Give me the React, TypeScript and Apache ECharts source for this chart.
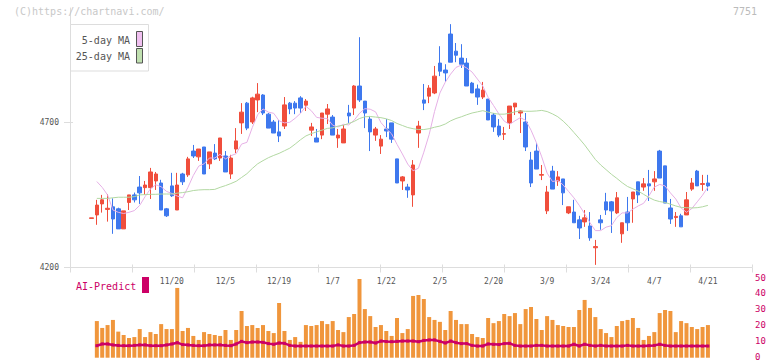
import React, { useEffect, useRef } from 'react';
import * as echarts from 'echarts';

const dates = ['10/29','10/30','10/31','11/4','11/5','11/6','11/7','11/10','11/11','11/12','11/13','11/14','11/17','11/18','11/19','11/20','11/21','11/25','11/26','11/27','11/28','12/1','12/2','12/3','12/4','12/5','12/8','12/9','12/10','12/11','12/12','12/15','12/16','12/17','12/18','12/19','12/22','12/23','12/24','12/25','12/26','12/29','12/30','1/5','1/6','1/7','1/8','1/9','1/13','1/14','1/15','1/16','1/19','1/20','1/21','1/22','1/23','1/26','1/27','1/28','1/29','1/30','2/2','2/3','2/4','2/5','2/6','2/9','2/10','2/12','2/13','2/16','2/17','2/18','2/19','2/20','2/24','2/25','2/26','2/27','3/2','3/3','3/4','3/5','3/6','3/9','3/10','3/11','3/12','3/13','3/16','3/17','3/18','3/19','3/23','3/24','3/25','3/26','3/27','3/30','3/31','4/1','4/2','4/3','4/6','4/7','4/8','4/9','4/10','4/13','4/14','4/15','4/16','4/17','4/20','4/21'];

const tickLabels = ['11/20','12/5','12/19','1/7','1/22','2/5','2/20','3/9','3/24','4/7','4/21'];

const opens = [4369,4381,4419,4400,4409,4402,4333,4424,4450,4477,
4475,4475,4498,4491,4402,4481,4398,4522,4519,4601,
4581,4615,4557,4594,4577,4584,4522,4608,4698,4766,
4701,4777,4794,4728,4701,4667,4687,4766,4766,4784,
4759,4673,4646,4656,4728,4718,4646,4629,4732,4749,
4825,4773,4711,4656,4618,4677,4698,4574,4498,4477,
4450,4663,4777,4790,4801,4904,4880,5004,4945,4921,
4904,4835,4815,4787,4780,4725,4687,4659,4698,4753,
4732,4701,4570,4601,4518,4395,4532,4498,4505,4388,
4391,4364,4357,4343,4268,4364,4426,4426,4388,4316,
4391,4436,4495,4477,4488,4495,4601,4550,4405,4372,
4378,4381,4470,4532,4486,4491];

const closes = [4371,4415,4433,4404,4367,4333,4395,4450,4433,4457,
4484,4529,4522,4398,4378,4447,4484,4495,4574,4584,
4608,4522,4598,4574,4646,4529,4577,4636,4735,4680,
4784,4797,4732,4680,4663,4653,4760,4746,4749,4749,
4773,4684,4632,4732,4746,4656,4656,4677,4722,4825,
4777,4732,4667,4677,4642,4670,4642,4491,4512,4467,
4553,4687,4766,4818,4859,4876,4870,4907,4931,4900,
4825,4801,4787,4811,4708,4684,4656,4661,4756,4766,
4739,4615,4491,4539,4520,4460,4470,4512,4457,4409,
4354,4336,4371,4302,4272,4354,4398,4395,4440,4354,
4354,4460,4450,4488,4481,4505,4508,4422,4367,4376,
4340,4433,4491,4481,4489,4481];

const lows = [4369,4347,4389,4358,4316,4333,4333,4398,4424,4419,
4450,4436,4467,4398,4374,4443,4398,4484,4512,4577,
4567,4522,4539,4570,4567,4529,4505,4594,4660,4673,
4694,4735,4725,4680,4663,4632,4677,4728,4728,4732,
4739,4653,4632,4642,4694,4656,4612,4629,4698,4725,
4770,4680,4601,4636,4591,4649,4629,4491,4467,4440,
4409,4612,4742,4766,4797,4859,4839,4907,4907,4887,
4825,4801,4760,4780,4708,4667,4649,4639,4677,4725,
4663,4601,4477,4539,4501,4384,4470,4481,4415,4384,
4354,4298,4340,4292,4209,4330,4381,4319,4384,4285,
4326,4354,4422,4464,4429,4464,4508,4422,4350,4340,
4340,4381,4464,4481,4464,4464];

const highs = [4371,4433,4450,4453,4438,4406,4395,4450,4458,4515,
4498,4543,4529,4502,4405,4526,4526,4526,4581,4622,
4608,4615,4598,4625,4646,4601,4588,4680,4766,4770,
4788,4835,4797,4732,4708,4708,4787,4770,4773,4790,
4780,4698,4677,4732,4763,4725,4677,4691,4760,4828,
4993,4773,4722,4684,4656,4711,4698,4574,4515,4488,
4570,4705,4832,4828,4894,4962,4900,5038,4973,4969,
4921,4839,4830,4839,4780,4732,4711,4684,4756,4766,
4742,4732,4598,4629,4553,4481,4550,4532,4505,4409,
4433,4378,4398,4391,4295,4381,4457,4429,4460,4354,
4443,4460,4495,4508,4536,4532,4605,4550,4436,4391,
4385,4460,4508,4536,4519,4519];

const ma5 = ['-',4496,4476,4450,4398,4390,4386,4390,4396,4414,
4444,4471,4485,4478,4462,4455,4446,4440,4476,4517,
4549,4557,4577,4577,4590,4574,4585,4592,4625,4631,
4682,4726,4746,4735,4731,4705,4698,4700,4714,4731,
4755,4740,4717,4714,4713,4690,4684,4693,4691,4707,
4731,4747,4745,4736,4699,4678,4660,4624,4591,4556,
4533,4542,4597,4658,4737,4801,4838,4866,4889,4897,
4887,4873,4849,4825,4786,4758,4729,4704,4693,4705,
4716,4707,4673,4630,4581,4525,4496,4500,4484,4462,
4440,4414,4385,4354,4327,4327,4339,4344,4372,4388,
4388,4401,4412,4421,4447,4477,4486,4481,4457,4436,
4405,4390,4403,4426,4449,4477];

const ma25 = ['-',4438,4438,4438,4440,4442,4442,4442,4444,4450,
4451,4452,4452,4453,4453,4453,4456,4458,4461,4465,
4467,4468,4468,4469,4476,4482,4489,4497,4510,4523,
4541,4557,4568,4578,4586,4593,4602,4611,4625,4640,
4653,4661,4667,4673,4679,4681,4687,4690,4696,4703,
4713,4719,4720,4718,4716,4712,4706,4696,4689,4682,
4678,4675,4675,4678,4683,4687,4694,4705,4713,4719,
4726,4732,4736,4740,4735,4731,4728,4728,4731,4736,
4739,4738,4738,4739,4741,4737,4729,4719,4704,4686,
4665,4644,4622,4597,4572,4553,4537,4521,4507,4492,
4479,4471,4463,4452,4441,4432,4427,4424,4418,4412,
4407,4406,4405,4406,4409,4414];

const volume = ['-',22.9,18.6,20.4,23.6,16.3,14.2,12.3,12.9,17.9,
12.9,16.0,14.8,21.0,17.9,17.9,43.6,16.7,18.6,13.6,
11.1,16.0,14.8,14.2,13.6,17.3,11.1,17.3,29.2,19.8,
20.4,18.6,20.4,16.7,15.4,34.2,16.7,11.1,12.9,9.9,
20.4,19.8,20.4,22.9,21.0,22.9,17.3,16.0,25.4,27.3,
49.2,30.4,26.0,19.2,20.4,16.7,13.6,24.8,15.4,17.9,
38.6,39.2,36.7,25.4,23.6,22.4,17.3,29.2,23.6,21.0,
21.0,14.8,12.9,12.3,24.8,21.6,22.9,27.3,26.0,27.9,
21.0,30.4,31.7,24.2,17.3,26.0,23.6,20.4,19.8,19.2,
19.2,29.8,36.1,31.1,25.4,17.9,15.4,12.9,19.8,22.9,
23.6,24.8,18.6,11.1,13.6,16.0,27.9,29.8,29.2,16.0,
22.9,21.6,19.2,17.9,19.2,20.4];

const aiPredict = ['-',7.5,8.6,8.6,8.0,7.7,7.5,7.5,7.7,8.0,
8.0,7.5,7.5,7.5,8.0,8.6,9.4,8.2,8.0,7.7,
7.5,7.5,8.0,8.0,8.0,7.7,7.5,8.6,10.2,9.4,
9.8,9.8,9.6,8.8,8.4,9.2,9.0,7.7,7.3,7.3,
7.3,7.3,7.3,7.3,7.3,7.3,8.0,7.3,7.3,7.7,
9.4,9.8,9.8,9.2,10.4,10.1,10.0,10.2,10.4,10.4,
10.4,10.0,10.8,11.1,11.1,10.2,9.2,10.4,9.4,8.8,
8.8,7.7,7.3,7.3,8.6,8.4,8.2,8.8,9.0,7.7,
7.3,7.3,7.3,7.7,7.7,7.3,7.3,7.3,7.3,7.3,
8.4,7.3,8.4,7.7,7.3,7.7,7.3,7.3,7.3,7.3,
7.7,7.3,7.3,7.3,7.5,7.7,8.4,7.7,7.3,7.3,
7.3,7.3,7.3,7.3,7.3,7.3];

const priceTicks = [4200, 4700];
const volTicks = [0, 10, 20, 30, 40, 50];

const FONT = 'DejaVu Sans Mono';
const RED = '#F04E3C';
const BLUE = '#3E78EE';
const ORANGE = '#F0963C';
const MAGENTA = '#CC0066';
const AXIS = '#DDDDDD';
const PMIN = 4200;
const PMAX = 5093.6;

export default function App() {
  const ref = useRef<HTMLDivElement>(null);
  useEffect(() => {
    const chart = echarts.init(ref.current!, null, { renderer: 'svg' });
    const candles = opens.map((o, i) => [o, closes[i], lows[i], highs[i]]);
    const plotL = 88.8;
    const plotW = 621.8;
    const option: any = {
      animation: false,
      backgroundColor: '#ffffff',
      grid: [
        { left: plotL, width: plotW, top: 8, height: 259.5 },
        { left: 70, width: 682, top: 8, height: 259.5 },
        { left: plotL, width: plotW, top: 277.7, height: 80 },
        { left: 70, width: 682, top: 277.7, height: 80 },
        { left: 70, width: 682, top: 8, height: 259.5 },
      ],
      xAxis: [
        {
          gridIndex: 0, type: 'category', data: dates, boundaryGap: true,
          axisLine: { show: false }, axisTick: { show: false }, splitLine: { show: false },
          axisLabel: {
            interval: (idx: number) => tickLabels.includes(dates[idx]),
            fontSize: 8, color: '#555', fontFamily: FONT, margin: 10,
          },
        },
        {
          gridIndex: 1, type: 'value', min: 0, max: 11, interval: 1,
          axisLine: { show: true, lineStyle: { color: AXIS, width: 1 } },
          axisTick: { show: true, length: 5, lineStyle: { color: AXIS } },
          axisLabel: { show: false }, splitLine: { show: false },
        },
        {
          gridIndex: 2, type: 'category', data: dates, boundaryGap: true, show: false,
        },
        {
          gridIndex: 3, type: 'value', min: 0, max: 1, show: false,
        },
        {
          gridIndex: 4, type: 'value', min: 0, max: 11, interval: 1,
          axisLine: { show: false },
          axisTick: { show: true, inside: true, length: 3, lineStyle: { color: AXIS } },
          axisLabel: { show: false }, splitLine: { show: false },
        },
      ],
      yAxis: [
        { gridIndex: 0, type: 'value', min: PMIN, max: PMAX, show: false },
        {
          gridIndex: 1, type: 'value', min: PMIN, max: PMAX, interval: 500,
          axisLine: { show: true, lineStyle: { color: AXIS, width: 1 } },
          axisTick: { show: true, length: 6, lineStyle: { color: AXIS }, customValues: priceTicks },
          axisLabel: {
            show: true, fontSize: 8, color: '#555', fontFamily: FONT, margin: 11,
            customValues: priceTicks,
            formatter: (v: number) => (priceTicks.includes(v) ? String(v) : ''),
          },
          splitLine: { show: false },
        },
        { gridIndex: 2, type: 'value', min: 0, max: 50, show: false },
        {
          gridIndex: 3, type: 'value', min: 0, max: 50, interval: 10, position: 'right',
          axisLine: { show: false }, axisTick: { show: false }, splitLine: { show: false },
          axisLabel: {
            show: true, fontSize: 9, color: MAGENTA, fontFamily: FONT, margin: 3,
            customValues: volTicks,
          },
        },
        {
          gridIndex: 4, type: 'value', min: PMIN, max: PMAX, interval: 500,
          axisLine: { show: false },
          axisTick: { show: true, inside: true, length: 3, lineStyle: { color: AXIS }, customValues: priceTicks },
          axisLabel: { show: false }, splitLine: { show: false },
        },
      ],
      series: [
        {
          type: 'candlestick', xAxisIndex: 0, yAxisIndex: 0, data: candles,
          barWidth: 4, z: 2,
          itemStyle: { color: RED, color0: BLUE, borderColor: RED, borderColor0: BLUE, borderWidth: 1 },
        },
        {
          type: 'line', xAxisIndex: 0, yAxisIndex: 0, data: ma5, showSymbol: false, symbol: 'none',
          lineStyle: { color: '#E6B0E6', width: 1 }, z: 3,
        },
        {
          type: 'line', xAxisIndex: 0, yAxisIndex: 0, data: ma25, showSymbol: false, symbol: 'none',
          lineStyle: { color: '#B2D8A2', width: 1 }, z: 3,
        },
        {
          type: 'bar', xAxisIndex: 2, yAxisIndex: 2, data: volume, barWidth: 4,
          itemStyle: { color: ORANGE },
        },
        {
          type: 'line', xAxisIndex: 2, yAxisIndex: 2, data: aiPredict,
          symbol: 'rect', symbolSize: 3, showSymbol: true,
          itemStyle: { color: MAGENTA }, lineStyle: { color: MAGENTA, width: 2.5 }, z: 4,
        },
      ],
      graphic: [
        { type: 'text', left: 14, top: 6, z: 10, style: { text: '(C)https://chartnavi.com/', fill: '#C8C8C8', font: `10px "${FONT}"` } },
        { type: 'text', right: 15, top: 6, z: 10, style: { text: '7751', fill: '#BBBBBB', font: `10px "${FONT}"` } },
        { type: 'rect', z: 10, shape: { x: 70.5, y: 24.5, width: 78, height: 46.5 }, style: { fill: '#ffffff', stroke: AXIS, lineWidth: 1 } },
        { type: 'text', z: 11, x: 130, y: 40, style: { text: '5-day MA', fill: '#555', font: `10px "${FONT}"`, align: 'right', verticalAlign: 'middle' } },
        { type: 'rect', z: 11, shape: { x: 136.5, y: 31.5, width: 6, height: 15 }, style: { fill: '#F0C0F0', stroke: '#555', lineWidth: 1 } },
        { type: 'text', z: 11, x: 130, y: 56.5, style: { text: '25-day MA', fill: '#555', font: `10px "${FONT}"`, align: 'right', verticalAlign: 'middle' } },
        { type: 'rect', z: 11, shape: { x: 136.5, y: 48.5, width: 6, height: 14.5 }, style: { fill: '#C0E0B0', stroke: '#555', lineWidth: 1 } },
        { type: 'text', z: 11, x: 76, y: 286, style: { text: 'AI-Predict', fill: MAGENTA, font: `10px "${FONT}"`, align: 'left', verticalAlign: 'middle' } },
        { type: 'rect', z: 11, shape: { x: 142, y: 277, width: 7, height: 16 }, style: { fill: MAGENTA } },
      ],
    };
    chart.setOption(option);
    return () => chart.dispose();
  }, []);
  return (
    <div
      ref={ref}
      style={{ position: 'fixed', left: 0, top: 0, width: 772, height: 361, background: '#fff' }}
    />
  );
}
